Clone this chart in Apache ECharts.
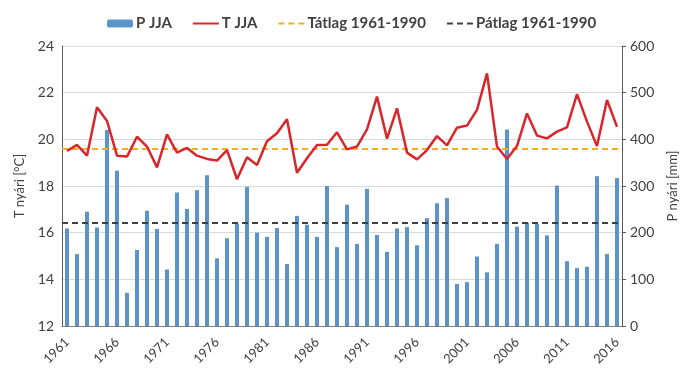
<!DOCTYPE html>
<html>
<head>
<meta charset="UTF-8">
<title>T és P nyári</title>
<script src="https://cdn.jsdelivr.net/npm/echarts@6/dist/echarts.min.js"></script>
<style>
  html, body { margin: 0; padding: 0; background: #fff; }
  #main { width: 690px; height: 375px; }
</style>
</head>
<body>
<div id="main"></div>
<script type="text/javascript">
// évek 1961-2016
var years = [];
for (var y = 1961; y <= 2016; y++) { years.push(String(y)); }

// nyári csapadék (mm)
var pJJA = [209, 154, 245, 211, 420, 333, 71, 163, 247, 208,
            121, 286, 251, 291, 323, 145, 188, 219, 298, 200,
            191, 210, 133, 236, 217, 191, 300, 169, 260, 176,
            294, 195, 159, 209, 212, 173, 231, 263, 274, 90,
            94, 149, 115, 176, 421, 213, 221, 219, 194, 301,
            139, 124, 127, 321, 154, 317];

// nyári középhőmérséklet (°C)
var tJJA = [19.50, 19.76, 19.30, 21.37, 20.79, 19.30, 19.26, 20.11, 19.69, 18.80,
            20.21, 19.43, 19.63, 19.30, 19.16, 19.09, 19.54, 18.29, 19.23, 18.90,
            19.92, 20.26, 20.86, 18.57, 19.19, 19.76, 19.77, 20.30, 19.57, 19.69,
            20.43, 21.83, 20.03, 21.33, 19.43, 19.14, 19.54, 20.14, 19.74, 20.50,
            20.59, 21.26, 22.83, 19.69, 19.16, 19.71, 21.11, 20.16, 20.04, 20.33,
            20.51, 21.94, 20.76, 19.71, 21.69, 20.54];

// 1961-1990 átlagok
var tAtlag = 19.6;
var pAtlag = 222;

var tTicks = [12, 24, 2];
var pTicks = [0, 600, 100];

var font = 'Lato, "Noto Sans", sans-serif';
var txt = '#404040';
var noDot = { opacity: 0 };

var myChart = echarts.init(document.getElementById('main'));

var option = {
    animation: false,
    textStyle: { fontFamily: font },
    grid: { left: 62, right: 68, top: 46, bottom: 49 },
    legend: {
        top: 11,
        left: 102,
        itemWidth: 26,
        itemHeight: 8,
        itemGap: 20,
        textStyle: { fontFamily: font, fontSize: 15, fontWeight: 'bold', color: txt, padding: [0, 0, 0, -2] },
        data: [
            { name: 'P JJA' },
            { name: 'T JJA', itemStyle: noDot },
            { name: 'Tátlag 1961-1990', itemStyle: noDot },
            { name: 'Pátlag 1961-1990', itemStyle: noDot }
        ]
    },
    xAxis: {
        type: 'category',
        data: years,
        boundaryGap: true,
        axisLine: { lineStyle: { color: '#7f7f7f', width: 1 } },
        axisTick: { interval: 4, length: 4, lineStyle: { color: '#7f7f7f' } },
        axisLabel: { interval: 4, rotate: 45, color: txt, fontSize: 13, margin: 14 }
    },
    yAxis: [
        {
            type: 'value',
            min: tTicks[0], max: tTicks[1], interval: tTicks[2],
            name: 'T nyári [°C]',
            nameLocation: 'middle',
            nameGap: 36,
            nameTextStyle: { color: txt, fontSize: 13 },
            axisLine: { show: true, lineStyle: { color: '#595959' } },
            axisTick: { show: false },
            axisLabel: { color: txt, fontSize: 14, margin: 8 },
            splitLine: { lineStyle: { color: '#d9d9d9' } }
        },
        {
            type: 'value',
            min: pTicks[0], max: pTicks[1], interval: pTicks[2],
            name: 'P nyári [mm]',
            nameLocation: 'middle',
            nameGap: 44,
            nameRotate: 90,
            nameTextStyle: { color: txt, fontSize: 13 },
            axisLine: { show: true, lineStyle: { color: '#595959' } },
            axisTick: { show: true, length: 4, lineStyle: { color: '#595959' } },
            axisLabel: { color: txt, fontSize: 14, margin: 8 },
            splitLine: { show: false }
        }
    ],
    series: [
        {
            name: 'P JJA',
            type: 'bar',
            yAxisIndex: 1,
            barWidth: 4,
            itemStyle: { color: '#5b93cb' },
            data: pJJA
        },
        {
            name: 'T JJA',
            type: 'line',
            yAxisIndex: 0,
            symbol: 'none',
            z: 5,
            lineStyle: { color: '#d9262b', width: 2.5 },
            itemStyle: { color: '#d9262b' },
            data: tJJA
        },
        {
            name: 'Tátlag 1961-1990',
            type: 'line',
            yAxisIndex: 0,
            symbol: 'none',
            z: 4,
            lineStyle: { color: '#f2b01e', width: 2, type: [6, 4] },
            itemStyle: { color: '#f2b01e' },
            data: [],
            markLine: {
                silent: true,
                symbol: 'none',
                label: { show: false },
                lineStyle: { color: '#f2b01e', width: 2, type: [6, 4] },
                data: [{ yAxis: tAtlag }]
            }
        },
        {
            name: 'Pátlag 1961-1990',
            type: 'line',
            yAxisIndex: 1,
            symbol: 'none',
            z: 4,
            lineStyle: { color: '#404040', width: 2, type: [6, 4] },
            itemStyle: { color: '#404040' },
            data: [],
            markLine: {
                silent: true,
                symbol: 'none',
                label: { show: false },
                lineStyle: { color: '#404040', width: 2, type: [6, 4] },
                data: [{ yAxis: pAtlag }]
            }
        }
    ]
};

myChart.setOption(option);
</script>
</body>
</html>
